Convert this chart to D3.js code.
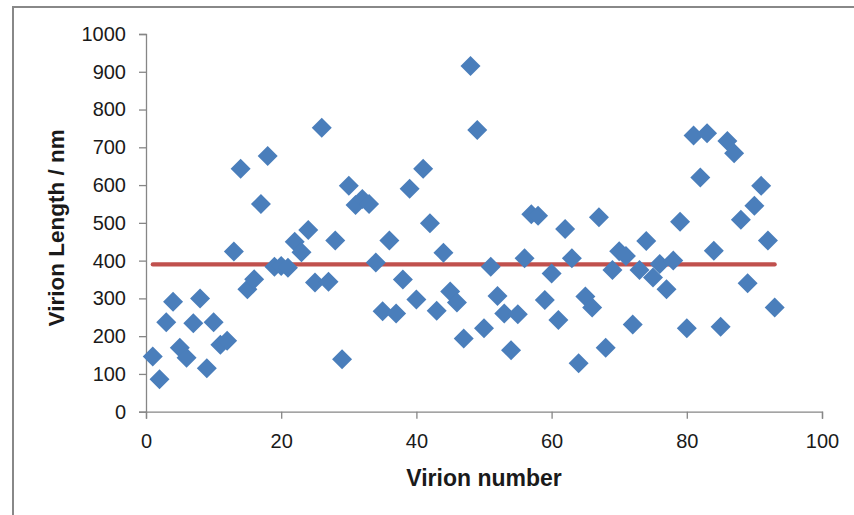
<!DOCTYPE html>
<html>
<head>
<meta charset="utf-8">
<script src="https://cdn.jsdelivr.net/npm/d3@7"></script>
<style>
  html, body { margin: 0; padding: 0; background: #fff; }
  svg { display: block; font-family: "Liberation Sans", Arial, sans-serif; }
</style>
</head>
<body>
<div id="chart"></div>
<script>
// virion lengths (nm), one per virion, numbered 1..93
const virionLength = [
  146, 86, 237, 291, 169, 143, 234, 300, 115, 237,
  177, 188, 424, 643, 324, 351, 550, 677, 384, 386,
  381, 450, 422, 481, 342, 752, 344, 453, 139, 598,
  547, 563, 550, 395, 266, 453, 260, 350, 590, 297,
  643, 499, 267, 421, 318, 289, 194, 915, 746, 221,
  384, 306, 260, 163, 258, 406, 523, 519, 296, 366,
  243, 484, 406, 128, 305, 276, 515, 169, 375, 425,
  412, 231, 375, 452, 355, 391, 324, 400, 503, 221,
  731, 620, 737, 426, 225, 717, 684, 508, 340, 545,
  598, 453, 276
];
const virionNumber = virionLength.map((_, i) => i + 1);
const meanLength = 390; // average line drawn from first to last virion

const xTicks = [0, 20, 40, 60, 80, 100];
const yTicks = [0, 100, 200, 300, 400, 500, 600, 700, 800, 900, 1000];

const width = 854, height = 515;
const margin = { top: 34, right: 32, bottom: 103, left: 146 };

const svg = d3.select("#chart").append("svg")
  .attr("width", width)
  .attr("height", height)
  .attr("viewBox", [0, 0, width, height]);

// chart frame (only left and top edges fall inside the picture)
svg.append("rect")
  .attr("x", 13).attr("y", 7)
  .attr("width", width + 20).attr("height", height + 20)
  .attr("fill", "none")
  .attr("stroke", "#888")
  .attr("stroke-width", 2);

const x = d3.scaleLinear().domain([0, 100]).range([margin.left, width - margin.right]);
const y = d3.scaleLinear().domain([0, 1000]).range([height - margin.bottom - 0.3, margin.top]);

const axisColor = "#868686";

// y axis
const yAxis = svg.append("g")
  .attr("transform", `translate(${margin.left},0)`)
  .call(d3.axisLeft(y).tickValues(yTicks).tickSize(7).tickPadding(13).tickFormat(d3.format("d")));
yAxis.select(".domain").attr("stroke", axisColor).attr("stroke-width", 1.3);
yAxis.selectAll(".tick line").attr("stroke", axisColor).attr("stroke-width", 1.3);
yAxis.selectAll(".tick text")
  .attr("font-family", "Liberation Sans, Arial, sans-serif")
  .attr("font-size", "20px")
  .attr("fill", "#1a1a1a");

// x axis
const xAxis = svg.append("g")
  .attr("transform", `translate(0,${y(0)})`)
  .call(d3.axisBottom(x).tickValues(xTicks).tickSize(7).tickPadding(15).tickFormat(d3.format("d")));
xAxis.select(".domain").attr("stroke", axisColor).attr("stroke-width", 1.3);
xAxis.selectAll(".tick line").attr("stroke", axisColor).attr("stroke-width", 1.3);
xAxis.selectAll(".tick text")
  .attr("font-family", "Liberation Sans, Arial, sans-serif")
  .attr("font-size", "20px")
  .attr("fill", "#1a1a1a");

// axis titles
svg.append("text")
  .attr("x", (x(0) + x(100)) / 2 - 0)
  .attr("y", 486)
  .attr("text-anchor", "middle")
  .attr("font-weight", "bold")
  .attr("font-size", "23px")
  .attr("fill", "#1a1a1a")
  .text("Virion number");

svg.append("text")
  .attr("transform", `translate(64,${(y(0) + y(1000)) / 2 + 5}) rotate(-90)`)
  .attr("text-anchor", "middle")
  .attr("font-weight", "bold")
  .attr("font-size", "22.5px")
  .attr("fill", "#1a1a1a")
  .text("Virion Length / nm");

// mean line
svg.append("line")
  .attr("x1", x(virionNumber[0]))
  .attr("x2", x(virionNumber[virionNumber.length - 1]))
  .attr("y1", y(meanLength))
  .attr("y2", y(meanLength))
  .attr("stroke", "#c0504d")
  .attr("stroke-width", 4.2)
  .attr("stroke-linecap", "round");

// diamond markers
const diamond = d3.symbol().type(d3.symbolSquare).size(200);
svg.append("g")
  .selectAll("path")
  .data(virionLength)
  .join("path")
  .attr("d", diamond)
  .attr("transform", (d, i) => `translate(${x(virionNumber[i])},${y(d)}) rotate(45)`)
  .attr("fill", "#4a7ebb");
</script>
</body>
</html>
